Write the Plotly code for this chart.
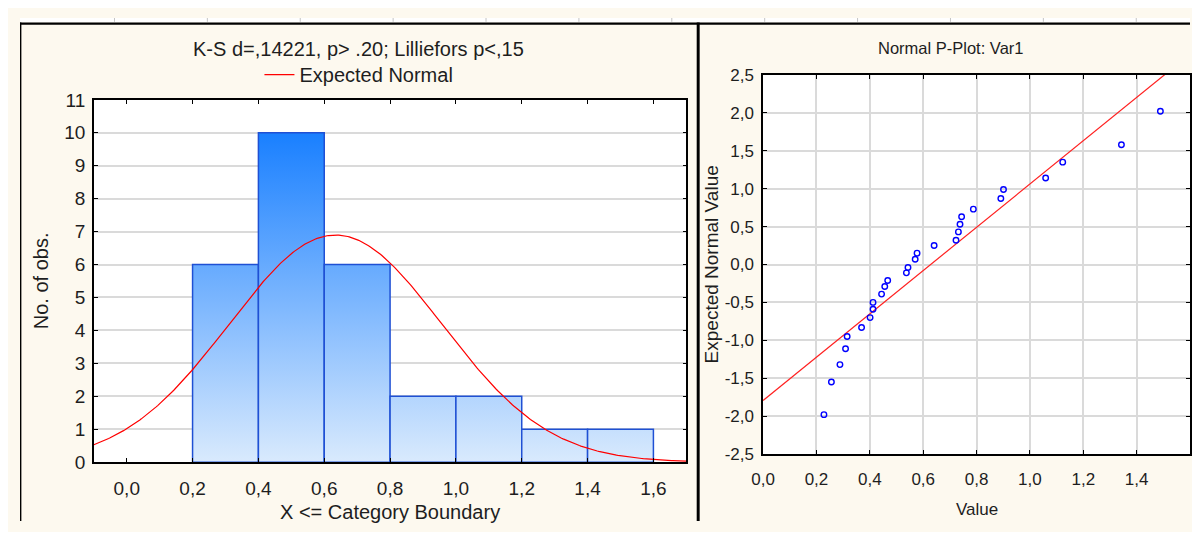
import numpy as np
import plotly.graph_objects as go

# ---------------- data: histogram (left panel) ----------------
BIN_EDGES = [0.2, 0.4, 0.6, 0.8, 1.0, 1.2, 1.4, 1.6]
COUNTS = [6, 10, 6, 2, 2, 1, 1]

# ---------------- data: normal probability plot (right panel) ----------------
VALUES = [0.228, 0.256, 0.288, 0.309, 0.315, 0.369, 0.401, 0.412, 0.412, 0.444,
          0.456, 0.467, 0.537, 0.543, 0.570, 0.577, 0.641, 0.723, 0.732, 0.738,
          0.744, 0.788, 0.891, 0.901, 1.059, 1.123, 1.343, 1.489]
EXPECTED_NORMAL = [-1.98, -1.55, -1.32, -1.11, -0.95, -0.83, -0.70, -0.59, -0.50, -0.39,
                   -0.29, -0.21, -0.11, -0.04, 0.07, 0.15, 0.25, 0.32, 0.43, 0.53,
                   0.63, 0.73, 0.87, 0.99, 1.14, 1.35, 1.58, 2.02]

# ---------------- tick labels ----------------
LEFT_X_TICKS = [0.0, 0.2, 0.4, 0.6, 0.8, 1.0, 1.2, 1.4, 1.6]
LEFT_X_LABELS = ["0,0", "0,2", "0,4", "0,6", "0,8", "1,0", "1,2", "1,4", "1,6"]
LEFT_Y_TICKS = [0, 1, 2, 3, 4, 5, 6, 7, 8, 9, 10, 11]
LEFT_Y_LABELS = ["0", "1", "2", "3", "4", "5", "6", "7", "8", "9", "10", "11"]
RIGHT_X_TICKS = [0.0, 0.2, 0.4, 0.6, 0.8, 1.0, 1.2, 1.4, 1.6]
RIGHT_X_LABELS = ["0,0", "0,2", "0,4", "0,6", "0,8", "1,0", "1,2", "1,4", "1,6"]
RIGHT_Y_TICKS = [-2.5, -2.0, -1.5, -1.0, -0.5, 0.0, 0.5, 1.0, 1.5, 2.0, 2.5]
RIGHT_Y_LABELS = ["-2,5", "-2,0", "-1,5", "-1,0", "-0,5", "0,0", "0,5", "1,0", "1,5", "2,0", "2,5"]

LEFT_TITLE = "K-S d=,14221, p> .20; Lilliefors p<,15"
RIGHT_TITLE = "Normal P-Plot: Var1"

# ---------------- styling ----------------
# The page body keeps its default 8px margin, so the figure is 16px smaller
# than the window and sits at (8, 8).
OFF = 8
W, H = 1200 - 2 * OFF, 540 - 2 * OFF
BEIGE = "#FDF9EF"
FONT = "Liberation Sans, Arial, sans-serif"
TXT = "#1e1e1e"
GRID = "#dadada"
BAR_EDGE = "#1f50d4"


def px(x):
    """window x (pixels) -> paper fraction"""
    return (x - OFF) / W


def py(y):
    """window y (pixels) -> paper fraction"""
    return 1 - (y - OFF) / H


fig = go.Figure()

# histogram bars with vertical gradient
for i, c in enumerate(COUNTS):
    x0, x1 = BIN_EDGES[i], BIN_EDGES[i + 1]
    fig.add_trace(go.Scatter(
        x=[x0, x0, x1, x1, x0], y=[0, c, c, 0, 0],
        mode="lines", fill="toself",
        fillgradient=dict(type="vertical",
                          colorscale=[[0, "#e2effd"], [1, "#1a80ff"]],
                          start=0, stop=10),
        line=dict(color=BAR_EDGE, width=1.5),
        showlegend=False, hoverinfo="skip",
        xaxis="x", yaxis="y"))

# expected normal curve
mean = float(np.mean(VALUES))
sd = float(np.std(VALUES, ddof=1))
n = sum(COUNTS)
bw = BIN_EDGES[1] - BIN_EDGES[0]
xs = np.linspace(-0.1, 1.7, 400)
ys = n * bw * np.exp(-0.5 * ((xs - mean) / sd) ** 2) / (sd * np.sqrt(2 * np.pi))
fig.add_trace(go.Scatter(x=xs, y=ys, mode="lines", name="Expected Normal",
                         line=dict(color="#ff0000", width=1.2),
                         showlegend=True, xaxis="x", yaxis="y"))

# normal probability plot
slope, intercept = np.polyfit(VALUES, EXPECTED_NORMAL, 1)
lx = np.array([0.0, 1.6])
fig.add_trace(go.Scatter(x=lx, y=slope * lx + intercept, mode="lines",
                         line=dict(color="#ff2020", width=1.2),
                         showlegend=False, xaxis="x2", yaxis="y2"))
fig.add_trace(go.Scatter(x=VALUES, y=EXPECTED_NORMAL, mode="markers",
                         marker=dict(symbol="circle-open", size=5.5, color="#0000ff",
                                     line=dict(width=1.4, color="#0000ff")),
                         showlegend=False, xaxis="x2", yaxis="y2"))

axis_common = dict(showline=True, linecolor="black", linewidth=1.5, mirror="ticks",
                   ticks="inside", ticklen=4, tickwidth=1.2, tickcolor="black",
                   zeroline=False, tickmode="array")

fig.update_layout(
    width=W, height=H, autosize=False,
    margin=dict(l=0, r=0, t=0, b=0, pad=0),
    paper_bgcolor=BEIGE, plot_bgcolor="white",
    font=dict(family=FONT, color=TXT),
    xaxis=dict(domain=[px(82.7), px(682.3)], anchor="y", range=[-0.1, 1.7],
               tickvals=LEFT_X_TICKS, ticktext=LEFT_X_LABELS, showgrid=False,
               tickfont=dict(size=19, family=FONT, color=TXT), ticklabelstandoff=8,
               **axis_common),
    yaxis=dict(domain=[py(470.7), py(93.3)], anchor="x", range=[0, 11],
               tickvals=LEFT_Y_TICKS, ticktext=LEFT_Y_LABELS, showgrid=True,
               gridcolor=GRID, gridwidth=1.5,
               tickfont=dict(size=19, family=FONT, color=TXT), ticklabelstandoff=3,
               **axis_common),
    xaxis2=dict(domain=[px(760), min(1.0, px(1192.7))], anchor="y2", range=[0, 1.6],
                tickvals=RIGHT_X_TICKS, ticktext=RIGHT_X_LABELS, showgrid=True,
                gridcolor=GRID, gridwidth=1.5,
                tickfont=dict(size=17, family=FONT, color=TXT), ticklabelstandoff=9,
                **axis_common),
    yaxis2=dict(domain=[py(462.3), py(67.3)], anchor="x2", range=[-2.5, 2.5],
                tickvals=RIGHT_Y_TICKS, ticktext=RIGHT_Y_LABELS, showgrid=True,
                gridcolor=GRID, gridwidth=1.5,
                tickfont=dict(size=17, family=FONT, color=TXT), ticklabelstandoff=4,
                **axis_common),
    legend=dict(x=px(351), y=py(67), xanchor="center", yanchor="middle",
                bgcolor="rgba(0,0,0,0)", font=dict(size=20, family=FONT, color=TXT),
                itemwidth=30),
    showlegend=True,
)

annotations = [
    dict(text=LEFT_TITLE, x=px(351), y=py(40), size=20, angle=0),
    dict(text="X <= Category Boundary", x=px(382.5), y=py(523), size=20, angle=0),
    dict(text="No. of obs.", x=px(29.5), y=py(282), size=20, angle=-90),
    dict(text=RIGHT_TITLE, x=px(950.5), y=py(39), size=16.5, angle=0),
    dict(text="Value", x=px(976), y=py(520), size=17, angle=0),
    dict(text="Expected Normal Value", x=px(708), y=py(265), size=19, angle=-90),
]
for a in annotations:
    fig.add_annotation(text=a["text"], x=a["x"], y=a["y"], xref="paper", yref="paper",
                       xanchor="center", yanchor="middle", showarrow=False,
                       textangle=a["angle"], font=dict(size=a["size"], family=FONT, color=TXT))

shapes = []
# white ruler strip along the top
shapes.append(dict(type="rect", xref="paper", yref="paper", x0=0, x1=1, y0=py(12.5), y1=1,
                   fillcolor="white", line=dict(width=0), layer="below"))
# ruler ticks
for k in range(12):
    xr = 103.6 + 94 * k
    shapes.append(dict(type="line", xref="paper", yref="paper", x0=px(xr), x1=px(xr),
                       y0=py(12), y1=1, line=dict(color="#c4c4c4", width=1)))
# black frame lines
shapes.append(dict(type="rect", xref="paper", yref="paper", x0=px(8), x1=1,
                   y0=py(15), y1=py(12.6), fillcolor="black", line=dict(width=0)))
shapes.append(dict(type="rect", xref="paper", yref="paper", x0=0, x1=px(9.4),
                   y0=0, y1=py(12.6), fillcolor="black", line=dict(width=0)))
shapes.append(dict(type="rect", xref="paper", yref="paper", x0=px(692.8), x1=px(695.8),
                   y0=0, y1=py(12.6), fillcolor="black", line=dict(width=0)))
fig.update_layout(shapes=shapes)

fig.write_html("out.html", config={"displayModeBar": False})
